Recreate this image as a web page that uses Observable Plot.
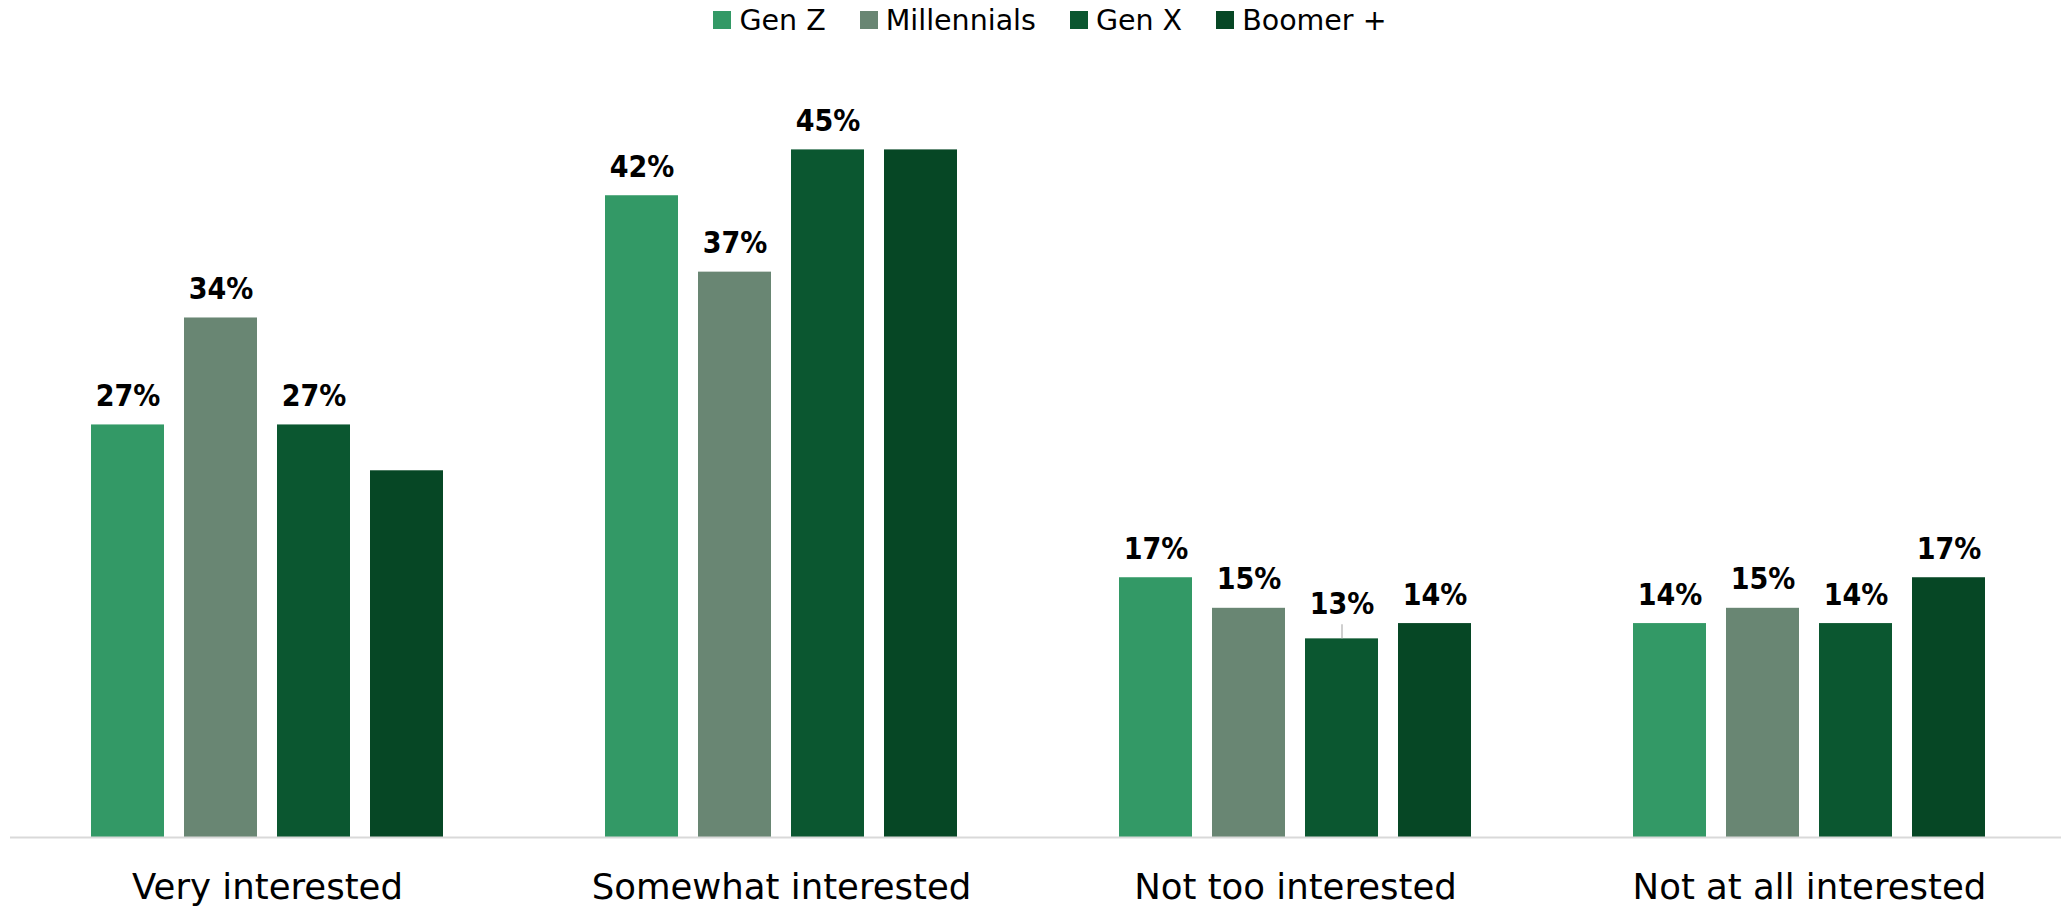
<!DOCTYPE html>
<html>
<head>
<meta charset="utf-8">
<script src="https://cdn.jsdelivr.net/npm/d3@7"></script>
<script src="https://cdn.jsdelivr.net/npm/@observablehq/plot@0.6"></script>
<style>
  html, body { margin: 0; padding: 0; background: #fff; }
  body { width: 2061px; height: 910px; overflow: hidden; font-family: "DejaVu Sans", sans-serif; }
  #legend { height: 40px; display: flex; justify-content: center; align-items: center; padding-left: 39px; box-sizing: border-box; }
  .item { display: flex; align-items: center; margin: 0 17px; font-size: 28.5px; color: #000; }
  .sw { width: 18px; height: 18px; margin-right: 8px; }
</style>
</head>
<body>
<div id="legend"></div>
<div id="chart"></div>
<script>
const categories = ["Very interested", "Somewhat interested", "Not too interested", "Not at all interested"];
const generations = ["Gen Z", "Millennials", "Gen X", "Boomer +"];
const colors = ["#339966", "#698673", "#0b5730", "#064725"];

const genZ = [27, 42, 17, 14];
const millennials = [34, 37, 15, 15];
const genX = [27, 45, 13, 14];
const boomer = [24, 45, 14, 17];

const labelsGenZ = ["27%", "42%", "17%", "14%"];
const labelsMillennials = ["34%", "37%", "15%", "15%"];
const labelsGenX = ["27%", "45%", "13%", "14%"];
const labelsBoomer = ["", "", "14%", "17%"];
const leaderGenX = [false, false, true, false];

const series = [genZ, millennials, genX, boomer];
const labels = [labelsGenZ, labelsMillennials, labelsGenX, labelsBoomer];
const noLeader = [false, false, false, false];
const leaders = [noLeader, noLeader, leaderGenX, noLeader];

const rows = [];
categories.forEach((c, i) => {
  generations.forEach((g, j) => {
    rows.push({category: c, generation: g, value: series[j][i], label: labels[j][i], leader: leaders[j][i]});
  });
});

// legend
const legend = document.getElementById("legend");
generations.forEach((g, j) => {
  const it = document.createElement("div");
  it.className = "item";
  const sw = document.createElement("div");
  sw.className = "sw";
  sw.style.background = colors[j];
  it.appendChild(sw);
  const t = document.createElement("span");
  t.textContent = g;
  it.appendChild(t);
  legend.appendChild(it);
});

const labelFont = "DejaVu Sans Condensed, DejaVu Sans, sans-serif";

const chart = Plot.plot({
  width: 2061,
  height: 870,
  marginLeft: 10,
  marginRight: 0,
  marginTop: 33,
  marginBottom: 73,
  style: {fontFamily: "DejaVu Sans, sans-serif", background: "#fff"},
  fx: {domain: categories, range: [10, 2066], padding: 0, label: null},
  x: {domain: generations, paddingInner: 0.214, paddingOuter: 0.849, axis: null},
  y: {domain: [0, 50], axis: null},
  color: {domain: generations, range: colors},
  marks: [
    Plot.barY(rows, {fx: "category", x: "generation", y: "value", fill: "generation"}),
    Plot.ruleY([0], {stroke: "#d9d9d9", strokeWidth: 2}),
    Plot.ruleX(rows.filter(d => d.leader), {fx: "category", x: "generation", y1: "value", y2: d => d.value + 0.92, stroke: "#bfbfbf", strokeWidth: 1.5}),
    Plot.text(rows.filter(d => d.label && !d.leader), {fx: "category", x: "generation", y: "value", text: "label", dy: -28.5, fontSize: 30, fontWeight: "bold", fontFamily: labelFont, fill: "#000", lineAnchor: "middle"}),
    Plot.text(rows.filter(d => d.label && d.leader), {fx: "category", x: "generation", y: "value", text: "label", dy: -34.5, fontSize: 30, fontWeight: "bold", fontFamily: labelFont, fill: "#000", lineAnchor: "middle"}),
    Plot.axisFx({anchor: "bottom", tickSize: 0, tickPadding: 36, fontSize: 35.5, label: null, fill: "#000"})
  ]
});
document.getElementById("chart").appendChild(chart);
</script>
</body>
</html>
